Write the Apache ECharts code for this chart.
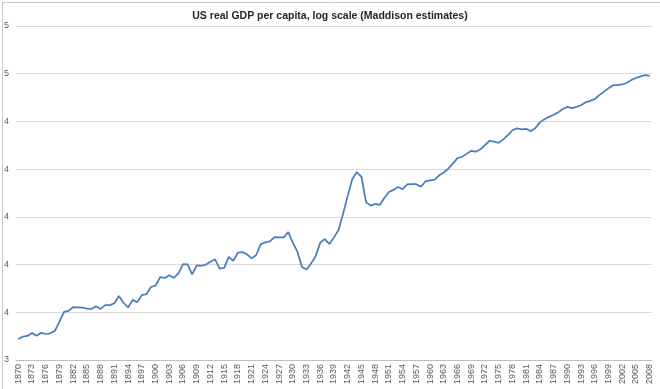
<!DOCTYPE html>
<html>
<head>
<meta charset="utf-8">
<script src="https://cdn.jsdelivr.net/npm/echarts@6/dist/echarts.min.js"></script>
<style>
html,body{margin:0;padding:0;background:#fff;}
#c{width:660px;height:389px;}
</style>
</head>
<body>
<div id="c"></div>
<script>
// Years 1870..2008
const years = [];
for (let y = 1870; y <= 2008; y++) years.push(String(y));

// log10 of US real GDP per capita (Maddison)
const logGdp = [
  3.388, 3.398, 3.401, 3.413, 3.402, 3.414, 3.409, 3.412, 3.422, 3.461,
  3.502, 3.506, 3.522, 3.521, 3.520, 3.515, 3.514, 3.525, 3.514, 3.530,
  3.530, 3.538, 3.568, 3.540, 3.520, 3.552, 3.542, 3.572, 3.576, 3.606,
  3.612, 3.647, 3.644, 3.655, 3.644, 3.663, 3.702, 3.701, 3.659, 3.697,
  3.695, 3.700, 3.712, 3.722, 3.683, 3.686, 3.732, 3.716, 3.750, 3.752,
  3.743, 3.726, 3.740, 3.786, 3.793, 3.797, 3.815, 3.814, 3.814, 3.836,
  3.792, 3.754, 3.690, 3.679, 3.705, 3.736, 3.792, 3.807, 3.786, 3.814,
  3.845, 3.914, 3.988, 4.059, 4.088, 4.068, 3.962, 3.947, 3.954, 3.950,
  3.979, 4.004, 4.013, 4.025, 4.016, 4.036, 4.037, 4.037, 4.026, 4.049,
  4.053, 4.056, 4.074, 4.086, 4.102, 4.124, 4.146, 4.152, 4.164, 4.177,
  4.173, 4.183, 4.201, 4.219, 4.215, 4.210, 4.225, 4.243, 4.263, 4.271,
  4.267, 4.269, 4.259, 4.272, 4.296, 4.309, 4.319, 4.328, 4.338, 4.352,
  4.361, 4.356, 4.361, 4.368, 4.380, 4.386, 4.394, 4.410, 4.425, 4.439,
  4.452, 4.452, 4.455, 4.462, 4.474, 4.482, 4.489, 4.494, 4.491
];

// Y axis: gridlines at 3.3, 3.5, ... 4.7 ; labels as shown (rounded, 0 decimals)
const axisBase = 3.3;
const axisStep = 0.2;
const yTickLabels = ['3', '4', '4', '4', '4', '4', '5', '5'];

const chart = echarts.init(document.getElementById('c'), null, {renderer: 'canvas'});
chart.setOption({
  animation: false,
  backgroundColor: '#ffffff',
  graphic: [{
    type: 'rect', left: 0, top: 0, silent: true,
    shape: {x: 0.5, y: 0.5, width: 659, height: 388},
    style: {fill: 'none', stroke: '#c8c8c8', lineWidth: 1}
  }],
  title: {
    text: 'US real GDP per capita, log scale (Maddison estimates)',
    left: 'center', top: 6,
    textStyle: {fontFamily: 'Liberation Sans Narrow, Liberation Sans, sans-serif', fontSize: 10.5, fontWeight: 'bold', color: '#262626'}
  },
  grid: {left: 16, right: 8, top: 26, bottom: 29, containLabel: false},
  xAxis: {
    type: 'category',
    data: years,
    boundaryGap: true,
    axisLine: {lineStyle: {color: '#bfbfbf'}},
    axisTick: {show: false},
    axisLabel: {
      interval: 2, rotate: 90, margin: 4,
      fontSize: 9, color: '#595959',
      fontFamily: 'Liberation Sans Narrow, Liberation Sans, sans-serif'
    },
    splitLine: {show: false}
  },
  yAxis: {
    type: 'value',
    min: 0, max: (yTickLabels.length - 1) * axisStep, interval: axisStep,
    axisLine: {show: false},
    axisTick: {show: false},
    axisLabel: {
      margin: 7, fontSize: 9, color: '#595959',
      fontFamily: 'Liberation Sans Narrow, Liberation Sans, sans-serif',
      formatter: v => yTickLabels[Math.round(v / axisStep)] || ''
    },
    splitLine: {lineStyle: {color: '#d9d9d9', width: 1}}
  },
  series: [{
    type: 'line',
    data: logGdp.map(v => +(v - axisBase).toFixed(4)),
    showSymbol: false,
    symbol: 'none',
    lineStyle: {color: '#4a7ebb', width: 1.75},
    itemStyle: {color: '#4a7ebb'}
  }]
});
</script>
</body>
</html>
